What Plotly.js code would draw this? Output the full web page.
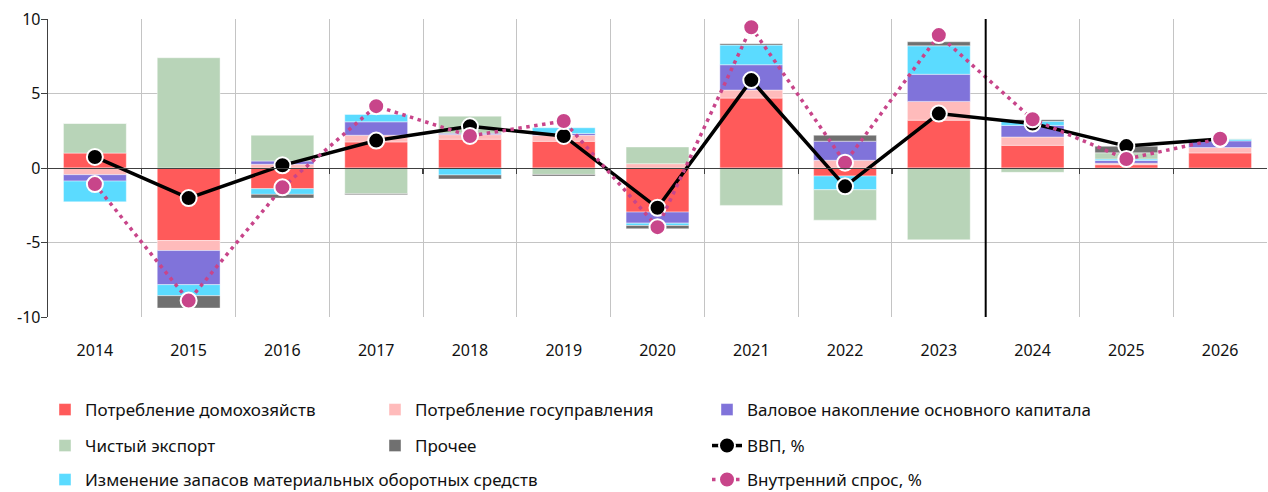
<!DOCTYPE html>
<html>
<head>
<meta charset="utf-8">
<script src="https://cdn.plot.ly/plotly-3.0.1.min.js"></script>
<style>html,body{margin:0;padding:0;background:#fff;}#chart{width:1268px;height:492px;}</style>
</head>
<body>
<div id="chart"></div>
<script>
var years = ['2014','2015','2016','2017','2018','2019','2020','2021','2022','2023','2024','2025','2026'];
var household      = [1.00, -4.87, -1.39, 1.75, 1.93, 1.79, -2.96, 4.69, -0.54, 3.21, 1.52, 0.22, 1.01];
var government     = [-0.45, -0.67, 0.25, 0.45, 0.31, 0.40, 0.29, 0.54, 0.52, 1.26, 0.56, 0.10, 0.36];
var investment     = [-0.43, -2.29, 0.22, 0.90, 0.10, 0.13, -0.74, 1.70, 1.28, 1.82, 0.78, 0.18, 0.45];
var inventories    = [-1.39, -0.74, -0.38, 0.49, -0.47, 0.38, -0.16, 1.32, -0.92, 1.91, 0.27, 0.10, 0.11];
var netExports     = [2.00, 7.40, 1.73, -1.73, 1.14, -0.43, 1.12, -2.51, -2.04, -4.82, -0.29, 0.42, 0.05];
var other          = [0.00, -0.83, -0.25, -0.07, -0.27, -0.11, -0.22, 0.09, 0.40, 0.27, 0.11, 0.44, 0.00];
var gdp            = [0.74, -2.02, 0.18, 1.84, 2.80, 2.15, -2.67, 5.90, -1.23, 3.65, 2.98, 1.47, 1.95];
var domesticDemand = [-1.08, -8.90, -1.30, 4.15, 2.15, 3.15, -3.97, 9.45, 0.36, 8.92, 3.27, 0.60, 1.97];
var yTicks = [-10, -5, 0, 5, 10];

var FONT = 'Noto Sans, sans-serif';
var W = 1268, H = 492;
function bar(name, vals, color, leg) {
  return {type:'bar', name:name, x:years, y:vals, legend:leg,
    marker:{color:color, line:{color:'rgba(255,255,255,0.7)', width:0.6}},
    hoverinfo:'skip'};
}
var traces = [
  bar('Потребление домохозяйств', household, '#FF5A5A', 'legend'),
  bar('Потребление госуправления', government, '#FFBBBB', 'legend2'),
  bar('Валовое накопление основного капитала', investment, '#8073DA', 'legend3'),
  bar('Изменение запасов материальных оборотных средств', inventories, '#5BDBFF', 'legend7'),
  bar('Чистый экспорт', netExports, '#B8D4B8', 'legend4'),
  bar('Прочее', other, '#707070', 'legend5'),
  {type:'scatter', mode:'lines+markers', name:'ВВП, %', x:years, y:gdp, legend:'legend6',
    line:{color:'#000', width:3.5},
    marker:{color:'#000', size:16, line:{color:'#fff', width:2}}, hoverinfo:'skip'},
  {type:'scatter', mode:'lines+markers', name:'Внутренний спрос, %', x:years, y:domesticDemand, legend:'legend8',
    line:{color:'#C8458A', width:3.5, dash:'3.5px,4.5px'},
    marker:{color:'#C8458A', size:16, line:{color:'#fff', width:2}}, hoverinfo:'skip'},
  {type:'scatter', mode:'markers', x:[0], y:[null], xaxis:'x2', showlegend:false, hoverinfo:'skip'}
];

function leg(px, py) {
  return {orientation:'h', xref:'container', yref:'container', xanchor:'left', yanchor:'middle',
    x:px / W, y:1 - py / H, font:{family:FONT, size:17, color:'#111'},
    bgcolor:'rgba(0,0,0,0)', borderwidth:0};
}

var layout = {
  width:W, height:H,
  margin:{l:48, r:1, t:19, b:175, autoexpand:false},
  paper_bgcolor:'#fff', plot_bgcolor:'#fff',
  barmode:'relative', bargap:0.33,
  font:{family:FONT, size:16, color:'#111'},
  hovermode:false,
  xaxis:{type:'category', range:[-0.5,12.5], autorange:false, tickson:'boundaries', showgrid:true,
    gridcolor:'#C4C4C4', gridwidth:1,
    ticks:'', showline:false, zeroline:false, ticklabelstandoff:22,
    tickfont:{family:FONT, size:16, color:'#111'}},
  xaxis2:{overlaying:'x', anchor:'free', position:0.5, side:'bottom', range:[-0.5,12.5], autorange:false,
    tickvals:[0.5,1.5,2.5,3.5,4.5,5.5,6.5,7.5,8.5,9.5,10.5,11.5], ticks:'outside', ticklen:5,
    tickcolor:'#404040', tickwidth:1.2,
    showticklabels:false, showgrid:false, zeroline:false, showline:true, linecolor:'#404040', linewidth:1.3},
  yaxis:{range:[-10,10], autorange:false, tickvals:yTicks, ticktext:yTicks.map(String), showgrid:true,
    gridcolor:'#C4C4C4', gridwidth:1, zeroline:false, showline:true, linecolor:'#404040', linewidth:1.3,
    ticks:'outside', ticklen:6, tickcolor:'#404040', ticklabelstandoff:-3,
    tickfont:{family:FONT, size:16, color:'#111'}},
  shapes:[{type:'line', xref:'x', yref:'paper', x0:9.5, x1:9.5, y0:0, y1:1,
    line:{color:'#000', width:2}}],
  legend:leg(45, 410),
  legend2:leg(375, 410),
  legend3:leg(707, 410),
  legend4:leg(45, 446),
  legend5:leg(375, 446),
  legend6:leg(707, 446),
  legend7:leg(45, 480),
  legend8:leg(707, 480)
};
Plotly.newPlot('chart', traces, layout, {staticPlot:true, displayModeBar:false});
</script>
</body>
</html>
